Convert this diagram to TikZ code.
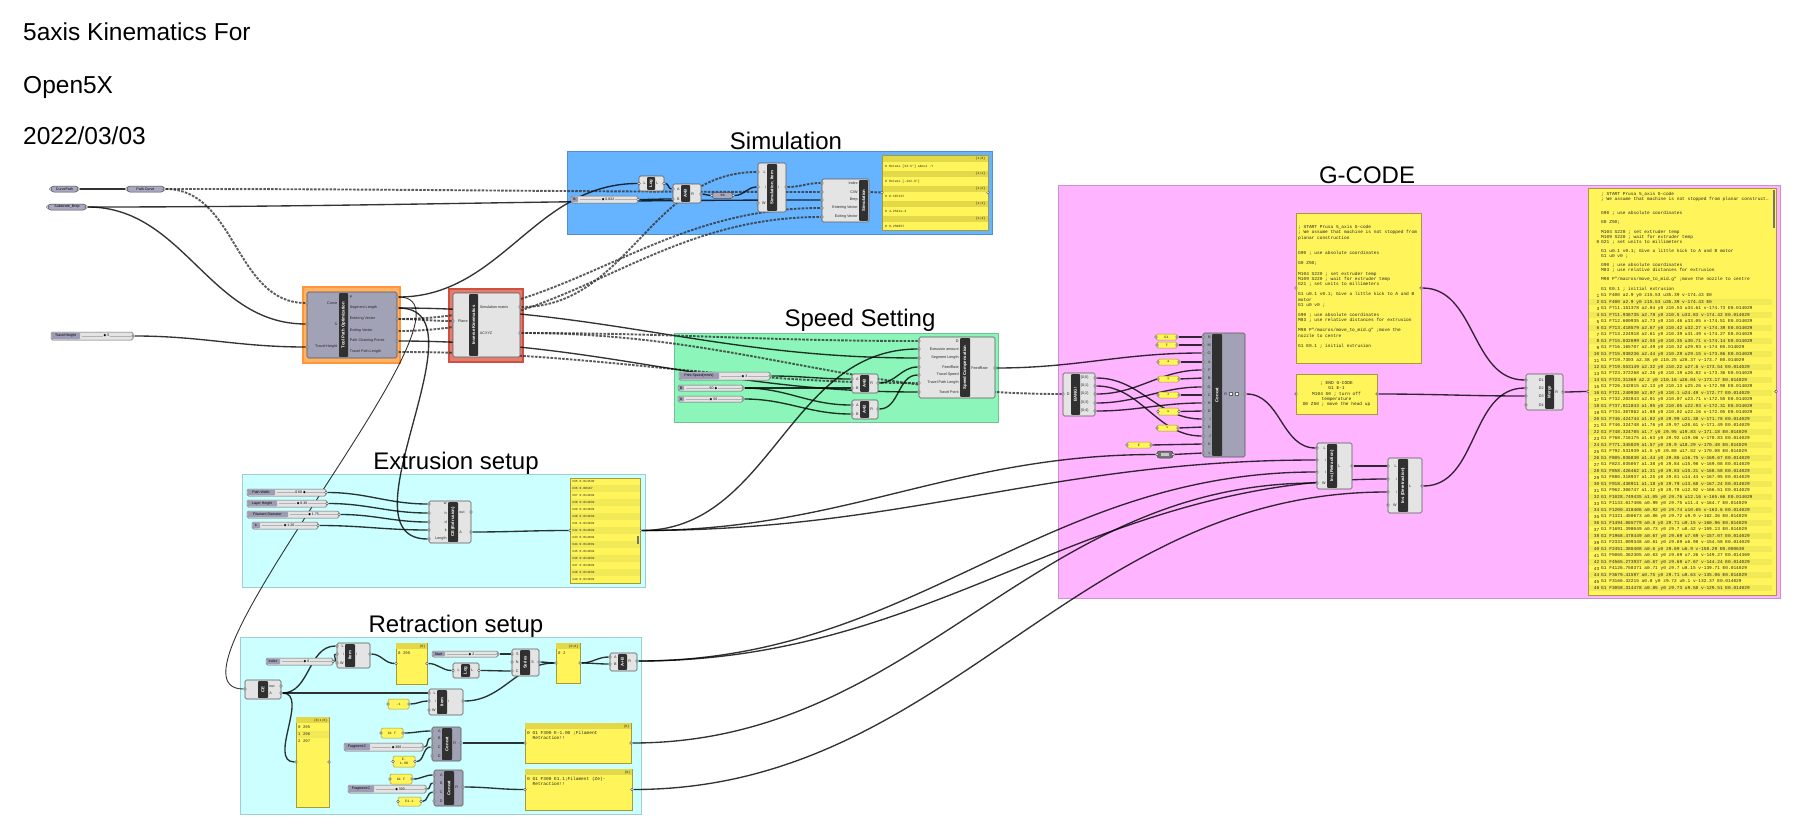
\documentclass[tikz,border=0pt]{standalone}
\usepackage{fontspec}
\setmainfont{Liberation Sans}
\newfontfamily\ghmono{Liberation Mono}
\newfontfamily\ghdj{DejaVu Sans}
\usetikzlibrary{fit}
\definecolor{simc}{RGB}{102,180,255}
\definecolor{gcc}{RGB}{255,180,255}
\definecolor{spc}{RGB}{140,245,185}
\definecolor{cyc}{RGB}{204,255,255}
\definecolor{orgf}{RGB}{255,178,100}
\definecolor{orgd}{RGB}{255,150,60}
\definecolor{redf}{RGB}{226,125,112}
\definecolor{redd}{RGB}{205,80,65}
\definecolor{compfill}{RGB}{228,228,228}
\definecolor{bluec}{RGB}{162,162,182}
\definecolor{stripc}{RGB}{48,48,48}
\definecolor{pillc}{RGB}{168,168,192}
\definecolor{slidc}{RGB}{228,228,228}
\definecolor{sliderlab}{RGB}{156,156,180}
\definecolor{panc}{RGB}{255,245,90}
\definecolor{panb}{RGB}{165,155,60}
\definecolor{panh}{RGB}{226,216,72}
\definecolor{rowc}{RGB}{242,233,86}
\pgfdeclarelayer{bglayer}
\pgfdeclarelayer{grouplayer}
\pgfdeclarelayer{wirelayer}
\pgfsetlayers{bglayer,grouplayer,wirelayer,main}
\newcommand{\dia}{{\ghdj ◆}}
\tikzset{
  grp/.style={fill=#1, draw=#1!80!black, line width=0.5pt, inner sep=0pt},
  grptitle/.style={font=\fontsize{24}{28}\selectfont, anchor=base, inner sep=0pt},
  maintitle/.style={font=\fontsize{24.5}{28}\selectfont, anchor=base west, inner sep=0pt},
  wire/.style={draw=black, draw opacity=0.8, line width=1.35pt},
  dwire/.style={draw=black!80, draw opacity=0.8, line width=1.9pt, dash pattern=on 2.6pt off 1.3pt},
  compbody/.style={draw=black!65, rounded corners=1.5pt, line width=0.6pt, inner sep=0pt},
  striplbl/.style={font=\bfseries\fontsize{4.3}{5}\selectfont, text=white, inner sep=0pt},
  portlbl/.style={font=\fontsize{3.7}{4.4}\selectfont, inner sep=0.2pt, text=black!85},
  port/.style={circle, minimum size=2.6pt, inner sep=0pt, fill=white, draw=black!75, line width=0.4pt},
  pill/.style={rounded corners=2.8pt, minimum height=6pt, inner sep=0pt, fill=pillc, draw=black!70, line width=0.5pt, font=\fontsize{3.6}{4}\selectfont},
  sliderbody/.style={draw=black!60, fill=slidc, rounded corners=1.5pt, line width=0.5pt, inner sep=0pt},
  sllbl/.style={font=\fontsize{3.5}{4}\selectfont, inner sep=0pt},
  slval/.style={font=\fontsize{3.5}{4}\selectfont, inner sep=0.6pt, fill=slidc},
  panelbody/.style={draw=panb, fill=panc, line width=0.6pt, inner sep=0pt},
  minipan/.style={draw=panb, fill=panc, line width=0.5pt, rounded corners=1.5pt, inner sep=0pt},
  mono/.style={font=\ghmono\fontsize{#1}{#1}\selectfont, inner sep=0pt, text=black!85, align=center},
}
\newcommand{\ghcomp}[9]{%
  \node[compbody, fill=#9, fit={(#2,#3) (#4,#5)}] (#1) {};
  \fill[stripc, rounded corners=0.8pt] (#6,#3+1.2) rectangle (#7,#5-1.2);
  \node[striplbl, rotate=90] (#1-s) at ({(#6+#7)/2},{(#3+#5)/2}) {#8};
}
\newcommand{\ghin}[5]{%
  \node[portlbl, anchor=east] (#1-t) at (#4,#3) {#5};
  \node[port] (#1) at (#2,#3) {};
}
\newcommand{\ghout}[5]{%
  \node[portlbl, anchor=west] (#1-t) at (#4,#3) {#5};
  \node[port] (#1) at (#2,#3) {};
}
\newcommand{\ghpill}[5]{%
  \node[pill, minimum width=#4pt] (#1) at (#2,#3) {#5};
  \node[port] (#1-i) at (#1.west) {};
  \node[port] (#1-o) at (#1.east) {};
}
\newcommand{\ghslider}[8]{%
  \node[sliderbody, fit={(#2,#3) (#4,#5)}] (#1) {};
  \fill[sliderlab, rounded corners=1pt] (#2+0.7,#3+0.7) rectangle (#6,#5-0.7);
  \node[sllbl] (#1-l) at ({(#2+#6)/2},{(#3+#5)/2}) {#7};
  \draw[black!30, line width=0.5pt] (#6+2,{(#3+#5)/2}) -- (#4-2,{(#3+#5)/2});
  \node[slval] (#1-v) at ({(#6+#4)/2},{(#3+#5)/2}) {#8};
  \node[port] (#1-o) at (#4,{(#3+#5)/2}) {};
}
\newcommand{\ghpanel}[5]{%
  \node[panelbody, fit={(#2,#3) (#4,#5)}] (#1) {};
  \node[port] (#1-i) at (#2,{(#3+#5)/2}) {};
  \node[port] (#1-o) at (#4,{(#3+#5)/2}) {};
}
\newcommand{\ghmini}[6]{%
  \node[minipan, fit={(#2,#3) (#4,#5)}] (#1) {};
  \node[mono=3.4] (#1-t) at ({(#2+#4)/2},{(#3+#5)/2}) {#6};
  \node[port] (#1-i) at (#2,{(#3+#5)/2}) {};
  \node[port] (#1-o) at (#4,{(#3+#5)/2}) {};
}
\newcommand{\ghhdr}[5]{%
  \fill[panh] (#2+0.4,#3+0.4) rectangle (#4-0.4,#3+6);
  \node[mono=3.2, anchor=east] (#1) at (#4-1.5,#3+3.3) {#5};
}
\begin{document}
\begin{tikzpicture}[x=1pt,y=-1pt]
\begin{pgfonlayer}{bglayer}
\fill[white] (0,0) rectangle (1800,835);
\end{pgfonlayer}
\useasboundingbox (0,0) rectangle (1800,835);

% ---------- titles ----------
\node[maintitle] (title1) at (23,40) {5axis Kinematics For};
\node[maintitle] (title2) at (23,93) {Open5X};
\node[maintitle] (title3) at (23,144) {2022/03/03};

% ---------- groups ----------
\begin{pgfonlayer}{grouplayer}
\node[grp=simc, fit={(567,151) (992,234)}] (gsim) {};
\node[grp=gcc, fit={(1058,185) (1780,598)}] (ggc) {};
\node[grp=spc, fit={(674,333) (998,422)}] (gsp) {};
\node[grp=cyc, fit={(242,474) (645,587)}] (gex) {};
\node[grp=cyc, fit={(240,637) (641,814)}] (grt) {};
\node[fit={(303,287) (400,363)}, inner sep=0pt, fill=orgf, draw=orgd, line width=1.4pt] (gtpo) {};
\node[fit={(449,289) (523,362)}, inner sep=0pt, fill=redf, draw=redd, line width=1.4pt] (gik) {};
\end{pgfonlayer}
\node[grptitle] (tsim) at (786,149) {Simulation};
\node[grptitle] (tgc) at (1367,183) {G-CODE};
\node[grptitle] (tsp) at (860,326) {Speed Setting};
\node[grptitle] (tex) at (456,469) {Extrusion setup};
\node[grptitle] (trt) at (456,632) {Retraction setup};

% ---------- inputs top-left ----------
\ghpill{cpath}{64.5}{189}{27}{CurvePath}
\ghpill{pcurve}{145.5}{189}{37}{Path Curve}
\ghpill{subs}{67}{207}{38}{Substrate\_Brep}
\ghslider{th}{51}{332}{133}{340}{80}{Travel Height}{\dia\ 5}

% ---------- Tool Path Optimization ----------
\ghcomp{tpo}{307}{292}{397}{358}{339}{348}{Tool Path Optimization}{bluec}
\ghin{tpo-cv}{307}{303}{337.5}{Curve}
\ghin{tpo-s}{307}{324}{337.5}{S}
\ghin{tpo-th}{307}{347}{337.5}{Travel Height}
\ghout{tpo-p}{397}{297}{349.5}{P}
\ghout{tpo-sl}{397}{308}{349.5}{Segment Length}
\ghout{tpo-ev}{397}{319}{349.5}{Entering Vector}
\ghout{tpo-xv}{397}{331}{349.5}{Exiting Vector}
\ghout{tpo-pc}{397}{341}{349.5}{Path Chaining Points}
\ghout{tpo-tl}{397}{352}{349.5}{Travel Path Length}

% ---------- Inverse Kinematics ----------
\ghcomp{ik}{453}{293}{520}{357}{469}{478}{Inverse Kinematics}{compfill}
\ghin{ik-pl}{453}{321}{468}{Plane}
\ghout{ik-sm}{520}{307}{479.5}{Simulation matrix}
\ghout{ik-ac}{520}{333}{479.5}{ACXYZ}

% ---------- Simulation ----------
\ghslider{simsl}{571}{196}{638}{203}{578}{B}{\dia\ 0.822}
\ghcomp{log1}{639}{176}{664}{191}{647}{655}{Log}{compfill}
\ghin{log1-i}{639}{183.5}{646}{L}
\ghout{log1-o}{664}{183.5}{656}{L}
\ghcomp{ab1}{673}{184}{701}{203}{681}{690}{A×B}{compfill}
\ghin{ab1-a}{673}{189}{680}{A}
\ghin{ab1-b}{673}{199}{680}{B}
\ghout{ab1-r}{701}{194}{691}{R}
\ghpill{intp}{722.5}{195.5}{21}{Int}
\ghcomp{simit}{758}{163}{786}{212}{767}{777}{Simulation\_Item}{compfill}
\ghin{simit-l}{758}{172}{766}{L}
\ghin{simit-i}{758}{187}{766}{i}
\ghin{simit-w}{758}{203}{766}{W}
\ghout{simit-o}{786}{187}{778}{i}
\ghcomp{sim}{822}{179}{869}{222}{859}{868}{Simulation}{compfill}
\ghin{sim-ix}{822}{183}{858}{Index}
\ghin{sim-cw}{822}{192}{858}{C/W}
\ghin{sim-br}{822}{200}{858}{Brep}
\ghin{sim-ev}{822}{208}{858}{Entering Vector}
\ghin{sim-xv}{822}{217}{858}{Exiting Vector}
\node[port] (sim-o) at (869,192) {};
\ghpanel{simp}{882}{155}{988}{230}
\foreach \k/\v in {0/{Rotate [33.5°] about -Y},1/{Rotate [-132.9°]},2/{0.587237},3/{4.2541e-4},4/{9.250857}}{
  \fill[panh] (882.5,155.6+15*\k) rectangle (987.5,162+15*\k);
  \node[mono=3.2, anchor=east] (simh\k) at (985.5,158.8+15*\k) {\{1;\k\}};
  \node[mono=3.2, anchor=west] (simv\k) at (885,166.5+15*\k) {0 \v};
}

% ---------- Speed Setting ----------
\ghcomp{sc}{919}{337}{995}{398}{960}{970}{Speed Compensation}{compfill}
\ghin{sc-d}{919}{341}{959}{D}
\ghin{sc-ea}{919}{349}{959}{Extrusion amount}
\ghin{sc-sl}{919}{358}{959}{Segment Length}
\ghin{sc-fr}{919}{367}{959}{FeedRate}
\ghin{sc-ts}{919}{375}{959}{Travel Speed}
\ghin{sc-tl}{919}{383}{959}{Travel Path Length}
\ghin{sc-tp}{919}{392}{959}{Travel Point}
\ghout{sc-o}{995}{368}{971}{FeedRate}
\ghslider{ps}{679}{372}{770}{380}{719}{Print Speed(mm/s)}{\dia\ 3}
\ghslider{sbb}{678}{385}{743}{391}{684}{B}{60 \dia}
\ghslider{saa}{678}{396}{743}{402}{684}{A}{\dia\ 50}
\ghcomp{ab2}{852}{374}{878}{393}{860}{869}{A×B}{compfill}
\ghin{ab2-a}{852}{379}{859}{A}
\ghin{ab2-b}{852}{388}{859}{B}
\ghout{ab2-r}{878}{383}{870}{R}
\ghcomp{ab3}{852}{400}{878}{419}{860}{869}{A×B}{compfill}
\ghin{ab3-a}{852}{405}{859}{A}
\ghin{ab3-b}{852}{414}{859}{B}
\ghout{ab3-r}{878}{409}{870}{R}

% ---------- Extrusion setup ----------
\ghslider{pw}{247}{489}{326}{496}{275}{Path Width}{0.60 \dia}
\ghslider{lh}{247}{500}{327}{507}{277}{Layer Height}{\dia\ 0.30}
\ghslider{fd}{247}{511}{339}{518}{288}{Filament Diameter}{\dia\ 1.75}
\ghslider{kk}{252}{522}{318}{529}{260}{k}{\dia\ 1.20}
\ghcomp{ce}{429}{501}{471}{543}{448}{458}{CE (Extrusion)}{compfill}
\ghin{ce-w}{429}{504}{447}{w}
\ghin{ce-h}{429}{513}{447}{h}
\ghin{ce-d}{429}{522}{447}{d}
\ghin{ce-k}{429}{530}{447}{k}
\ghin{ce-len}{429}{539}{447}{Length}
\ghout{ce-out}{471}{512}{459}{out}
\ghout{ce-a}{471}{532}{459}{A}
\ghpanel{extp}{570}{478}{640}{583}
\foreach \k/\v in {0/{335 0.014530},1/{336 0.00187},2/{337 0.014039},3/{338 0.014039},4/{339 0.014039},5/{340 0.014039},6/{341 0.014039},7/{342 0.014039},8/{343 0.014039},9/{344 0.014039},10/{345 0.014039},11/{346 0.014039},12/{347 0.014039},13/{348 0.014039},14/{349 0.014039}}{
  \ifodd\k \fill[rowc] (570.5,478+7*\k) rectangle (639.5,485+7*\k); \fi
  \node[mono=3.1, anchor=west] (ext\k) at (572,481.5+7*\k) {\v};
}
\fill[black!55] (636.5,536) rectangle (638.5,544);

% ---------- Retraction setup ----------
\ghcomp{ce2}{245}{680}{281}{699}{258}{268}{CE}{compfill}
\ghin{ce2-i}{245}{689}{257}{}
\ghout{ce2-out}{281}{686}{269}{out}
\ghout{ce2-a}{281}{693}{269}{A}
\ghslider{idx}{266}{658}{333}{665}{280}{Index}{\dia\ 0}
\ghcomp{it1}{337}{643}{370}{668}{345}{355}{Item}{compfill}
\ghin{it1-l}{337}{646}{344}{L}
\ghin{it1-i}{337}{654}{344}{i}
\ghin{it1-w}{337}{663}{344}{W}
\ghout{it1-o}{370}{654}{356}{i}
\ghpanel{ptf}{396}{643}{427}{684}
\ghhdr{ptf-h}{396}{643}{427}{\{0\}}
\node[mono=4, anchor=west] (ptf-t) at (398,653) {0 295};
\ghslider{st}{432}{651}{498}{657}{445}{Start}{\dia\ 2}
\ghcomp{log2}{453}{663}{479}{678}{461}{470}{Log}{compfill}
\ghin{log2-i}{453}{670.5}{460}{L}
\ghout{log2-o}{479}{670.5}{471}{L}
\ghcomp{ser}{512}{649}{539}{676}{520}{530}{Series}{compfill}
\ghin{ser-s}{512}{654}{519}{S}
\ghin{ser-n}{512}{662}{519}{N}
\ghin{ser-c}{512}{671}{519}{C}
\ghout{ser-o}{539}{662}{531}{S}
\ghpanel{ptw}{556}{643}{580}{683}
\ghhdr{ptw-h}{556}{643}{580}{\{0;0\}}
\node[mono=4, anchor=west] (ptw-t) at (558,653) {0 2};
\ghcomp{ab4}{610}{653}{637}{671}{618}{627}{A+B}{compfill}
\ghin{ab4-a}{610}{657}{617}{A}
\ghin{ab4-b}{610}{664}{617}{B}
\ghout{ab4-r}{637}{661}{628}{R}
\ghcomp{it2}{429}{689}{463}{715}{437}{447}{Item}{compfill}
\ghin{it2-l}{429}{693}{436}{L}
\ghin{it2-i}{429}{701}{436}{i}
\ghin{it2-w}{429}{710}{436}{W}
\ghout{it2-o}{463}{701}{448}{i}
\ghmini{mone}{388}{699}{409}{709}{-1}
\ghpanel{plist}{296}{717}{329}{807}
\ghhdr{plist-h}{296}{717}{329}{\{0;1;0\}}
\foreach \k/\v in {0/{0 295},1/{1 296},2/{2 297}}{
  \ifodd\k \fill[rowc] (296.5,723.5+7*\k) rectangle (328.5,730.5+7*\k); \fi
  \node[mono=4, anchor=west] (pl\k) at (298,727+7*\k) {\v};
}
\ghcomp{ccx}{432}{727}{461}{761}{442}{452}{Concat}{bluec}
\ghin{ccx-a}{432}{731}{441}{A}
\ghin{ccx-b}{432}{738}{441}{B}
\ghin{ccx-c}{432}{747}{441}{C}
\ghin{ccx-d}{432}{756}{441}{D}
\ghout{ccx-r}{461}{743}{453}{R}
\ghmini{gfa}{381}{728}{403}{738}{G1 F}
\ghslider{fca}{344}{743}{423}{751}{370}{Fragment C}{\dia\ 300}
\ghmini{ema}{393}{756}{415}{767}{E-\\1.00}
\ghpanel{opa}{525}{723}{631}{763}
\ghhdr{opa-h}{525}{723}{631}{\{0\}}
\node[mono=4.5, anchor=north west, align=left, font=\ghmono\fontsize{4.5}{5.2}\selectfont] (opa-t) at (527,731) {0 G1 F300 E-1.00 ;Filament\\\ \ Retraction!!};
\ghcomp{ccy}{434}{770}{463}{806}{444}{454}{Concat}{bluec}
\ghin{ccy-a}{434}{775}{443}{A}
\ghin{ccy-b}{434}{783}{443}{B}
\ghin{ccy-c}{434}{792}{443}{C}
\ghin{ccy-d}{434}{801}{443}{D}
\ghout{ccy-r}{463}{787}{455}{R}
\ghmini{gfb}{390}{774}{412}{784}{G1 F}
\ghslider{fcb}{348}{785}{426}{793}{374}{Fragment C}{\dia\ 300}
\ghmini{emb}{398}{797}{421}{806}{E1.1}
\ghpanel{opb}{525}{769}{632}{810}
\ghhdr{opb-h}{525}{769}{632}{\{0\}}
\node[mono=4.5, anchor=north west, align=left, font=\ghmono\fontsize{4.5}{5.2}\selectfont] (opb-t) at (527,777) {0 G1 F300 E1.1;Filament (Ze)-\\\ \ Retraction!!};

% ---------- G-CODE ----------
\ghcomp{bang}{1063}{373}{1095}{416}{1071}{1080}{BANG!}{compfill}
\ghin{bang-d}{1063}{394}{1070}{D}
\ghout{bang-o0}{1095}{378}{1080.5}{\{0;0\}}
\ghout{bang-o1}{1095}{386}{1080.5}{\{0;1\}}
\ghout{bang-o2}{1095}{394}{1080.5}{\{0;2\}}
\ghout{bang-o3}{1095}{403}{1080.5}{\{0;3\}}
\ghout{bang-o4}{1095}{411}{1080.5}{\{0;4\}}
\ghcomp{cc}{1203}{333}{1245}{457}{1212}{1222}{Concat}{bluec}
\foreach \n/\yy in {N/337,M/345,O/353,A/362,F/370,B/378,G/387,C/395,H/403,D/411,I/419,E/427,J/436,K/444,L/453}{
  \ghin{cc-\n}{1203}{\yy}{1211}{\n}
}
\ghout{cc-r}{1245}{394}{1224}{R}
\node[draw=black!60, fill=white, minimum size=3.2pt, inner sep=0pt] (ccic1) at (1231,394) {};
\node[draw=black!60, fill=white, minimum size=3.2pt, inner sep=0pt] (ccic2) at (1237,394) {};
\ghmini{gop}{1156}{334}{1177}{340}{G1}
\ghmini{fop}{1157}{342}{1177}{348}{F}
\ghmini{aop}{1158}{359}{1179}{365}{a}
\ghmini{yop}{1158}{376}{1179}{382}{y}
\ghmini{zop}{1158}{392}{1179}{398}{z}
\ghmini{uop}{1158}{408}{1179}{415}{u}
\ghmini{vop}{1157}{425}{1178}{431}{v}
\ghmini{eop}{1127}{442}{1151}{448}{E}
\node[fit={(1157,451) (1173,458)}, inner sep=0pt, rounded corners=2.5pt, fill=black!55, draw=black!75, line width=0.5pt] (relay) {};
\fill[black!22] (1161,452.6) rectangle (1169,456.4);
\node[port] (relay-i) at (1157,454.5) {};
\node[port] (relay-o) at (1173,454.5) {};

\ghpanel{startp}{1296}{213}{1421}{363}
\node[anchor=north west, inner sep=0pt, align=left, text=black!85, font=\ghmono\fontsize{4.5}{5.16}\selectfont] (startp-t) at (1298,225.3) {; START Prusa 5\_axis G-code\\
; We assume that machine is not stopped from\\
planar construction\\ \mbox{}\\ \mbox{}\\
G90 ; use absolute coordinates\\ \mbox{}\\
G0 Z50;\\ \mbox{}\\
M104 S220 ; set extruder temp\\
M109 S220 ; wait for extruder temp\\
G21 ; set units to millimeters\\ \mbox{}\\
G1 u0.1 v0.1; Give a little kick to A and B\\
motor\\
G1 u0 v0 ;\\ \mbox{}\\
G90 ; use absolute coordinates\\
M83 ; use relative distances for extrusion\\ \mbox{}\\
M98 P"/macros/move\_to\_mid.g" ;move the\\
nozzle to centre\\ \mbox{}\\
G1 E0.1 ; initial extrusion};
\ghpanel{endp}{1296}{374}{1377}{414}
\node[inner sep=0pt, align=center, text=black!85, font=\ghmono\fontsize{4.5}{5.16}\selectfont] (endp-t) at (1336.5,394) {; END G-CODE\\ G1 E-1\\ M104 S0 ; turn off\\ temperature\\ G0 Z50 ; move the head up};

\ghcomp{insr}{1317}{443}{1352}{489}{1327}{1337}{Ins (Retraction)}{compfill}
\ghin{insr-l}{1317}{448}{1326}{L}
\ghin{insr-ia}{1317}{460}{1326}{i}
\ghin{insr-ib}{1317}{472}{1326}{i}
\ghin{insr-w}{1317}{483}{1326}{W}
\ghout{insr-o}{1352}{466}{1338}{L}
\ghcomp{insd}{1388}{458}{1422}{513}{1398}{1408}{Ins (Deretraction)}{compfill}
\ghin{insd-l}{1388}{466}{1397}{L}
\ghin{insd-ia}{1388}{479}{1397}{i}
\ghin{insd-ib}{1388}{492}{1397}{i}
\ghin{insd-w}{1388}{505}{1397}{W}
\ghout{insd-o}{1422}{486}{1409}{L}
\ghcomp{mrg}{1526}{374}{1563}{410}{1545}{1554}{Merge}{compfill}
\ghin{mrg-a}{1526}{380}{1544}{D1}
\ghin{mrg-b}{1526}{388}{1544}{D2}
\ghin{mrg-c}{1526}{396}{1544}{D3}
\ghin{mrg-d}{1526}{405}{1544}{D4}
\ghout{mrg-o}{1563}{392}{1555}{R}

% big output panel
\ghpanel{bigp}{1588}{188}{1776}{595}
\fill[black!55] (1772.5,190) rectangle (1775,228);
\foreach \k in {2,4,...,46}{
  \fill[rowc] (1588.5,{295.7+(\k-1)*6.5-3.25}) rectangle (1771.5,{295.7+(\k-1)*6.5+3.25});
}
\node[mono=4.5, anchor=west] (bh0) at (1601,194.3) {; START Prusa 5\_axis G-code};
\node[mono=4.5, anchor=west] (bh1) at (1601,199.05) {; We assume that machine is not stopped from planar construct…};
\node[mono=4.5, anchor=west] (bh4) at (1601,213.3) {G90 ; use absolute coordinates};
\node[mono=4.5, anchor=west] (bh6) at (1601,222.8) {G0 Z50;};
\node[mono=4.5, anchor=west] (bh8) at (1601,232.3) {M104 S220 ; set extruder temp};
\node[mono=4.5, anchor=west] (bh9) at (1601,237.05) {M109 S220 ; wait for extruder temp};
\node[mono=4.5, anchor=west] (bh10) at (1601,241.8) {G21 ; set units to millimeters};
\node[mono=4.5, anchor=east] (bh10i) at (1599.5,241.8) {0};
\node[mono=4.5, anchor=west] (bh12) at (1601,251.3) {G1 u0.1 v0.1; Give a little kick to A and B motor};
\node[mono=4.5, anchor=west] (bh13) at (1601,256.05) {G1 u0 v0 ;};
\node[mono=4.5, anchor=west] (bh15) at (1601,265.55) {G90 ; use absolute coordinates};
\node[mono=4.5, anchor=west] (bh16) at (1601,270.3) {M83 ; use relative distances for extrusion};
\node[mono=4.5, anchor=west] (bh18) at (1601,279.8) {M98 P"/macros/move\_to\_mid.g" ;move the nozzle to centre};
\node[mono=4.5, anchor=west] (bh20) at (1601,289.3) {G1 E0.1 ; initial extrusion};
\foreach \k/\t in {
1/{G1 F400 a2.9 y0 z15.53 u35.39 v-174.43 E0},
2/{G1 F400 a2.9 y0 z15.53 u35.39 v-174.43 E0},
3/{G1 F711.151378 a2.84 y0 z10.53 u34.61 v-174.73 E0.014029},
4/{G1 F711.936735 a2.78 y0 z10.5 u33.83 v-174.42 E0.014029},
5/{G1 F712.600935 a2.73 y0 z10.46 u33.05 v-174.51 E0.014029},
6/{G1 F713.418579 a2.67 y0 z10.42 u32.27 v-174.39 E0.014029},
7/{G1 F713.224918 a2.61 y0 z10.39 u31.49 v-174.27 E0.014029},
8/{G1 F715.032699 a2.55 y0 z10.35 u30.71 v-174.14 E0.014029},
9/{G1 F716.165707 a2.49 y0 z10.32 u29.93 v-174 E0.014029},
10/{G1 F715.938236 a2.44 y0 z10.29 u29.15 v-173.86 E0.014029},
11/{G1 F719.7303 a2.38 y0 z10.25 u28.37 v-173.7 E0.014029},
12/{G1 F719.553149 a2.32 y0 z10.22 u27.6 v-173.54 E0.014029},
13/{G1 F723.372268 a2.26 y0 z10.19 u26.82 v-173.36 E0.014029},
14/{G1 F723.31369 a2.2 y0 z10.16 u26.04 v-173.17 E0.014029},
15/{G1 F726.342815 a2.13 y0 z10.13 u25.26 v-172.98 E0.014029},
16/{G1 F721.240930 a2.07 y0 z10.1 u24.49 v-172.77 E0.014029},
17/{G1 F732.202843 a2.01 y0 z10.07 u23.71 v-172.55 E0.014029},
18/{G1 F737.011843 a1.95 y0 z10.05 u22.93 v-172.31 E0.014029},
19/{G1 F734.307862 a1.88 y0 z10.02 u22.16 v-172.05 E0.014029},
20/{G1 F746.424744 a1.82 y0 z9.99 u21.38 v-171.78 E0.014029},
21/{G1 F746.324748 a1.76 y0 z9.97 u20.61 v-171.49 E0.014029},
22/{G1 F748.324705 a1.7 y0 z9.95 u19.83 v-171.18 E0.014029},
23/{G1 F768.716175 a1.63 y0 z9.92 u19.06 v-170.83 E0.014029},
24/{G1 F771.345029 a1.57 y0 z9.9 u18.29 v-170.48 E0.014029},
25/{G1 F792.531939 a1.5 y0 z9.88 u17.52 v-170.08 E0.014029},
26/{G1 F805.036830 a1.44 y0 z9.86 u16.75 v-169.67 E0.014029},
27/{G1 F823.035057 a1.38 y0 z9.84 u15.98 v-169.08 E0.014029},
28/{G1 F858.426462 a1.31 y0 z9.83 u15.21 v-168.58 E0.014029},
29/{G1 F880.318937 a1.25 y0 z9.81 u14.44 v-167.95 E0.014029},
30/{G1 F918.438911 a1.18 y0 z9.79 u13.68 v-167.24 E0.014029},
31/{G1 F962.306747 a1.12 y0 z9.78 u12.92 v-166.51 E0.014029},
32/{G1 F1028.749435 a1.05 y0 z9.76 u12.16 v-165.66 E0.014029},
33/{G1 F1133.017406 a0.99 y0 z9.75 u11.4 v-164.7 E0.014029},
34/{G1 F1200.418406 a0.92 y0 z9.74 u10.65 v-163.6 E0.014029},
35/{G1 F1321.450673 a0.86 y0 z9.72 u9.9 v-162.36 E0.014029},
36/{G1 F1494.065779 a0.8 y0 z9.71 u9.15 v-160.96 E0.014029},
37/{G1 F1691.398049 a0.73 y0 z9.7 u8.42 v-159.13 E0.014029},
38/{G1 F1968.478449 a0.67 y0 z9.69 u7.69 v-157.07 E0.014029},
39/{G1 F2331.009348 a0.61 y0 z9.69 u6.98 v-154.58 E0.014029},
40/{G1 F2451.380408 a0.6 y0 z9.69 u6.9 v-158.29 E0.000630},
41/{G1 F5065.362305 a0.63 y0 z9.69 u7.26 v-149.27 E0.014369},
42/{G1 F4565.273937 a0.67 y0 z9.69 u7.67 v-144.24 E0.014029},
43/{G1 F4126.758371 a0.71 y0 z9.7 u8.15 v-139.71 E0.014029},
44/{G1 F3679.41597 a0.75 y0 z9.71 u8.63 v-135.06 E0.014029},
45/{G1 F3166.32215 a0.8 y0 z9.72 u9.1 v-132.37 E0.014029},
46/{G1 F3058.314478 a0.85 y0 z9.73 u9.58 v-129.51 E0.014029}}{
  \node[mono=4.5, anchor=east] (bi\k) at (1599.5,{295.7+(\k-1)*6.5}) {\k};
  \node[mono=4.5, anchor=west] (bt\k) at (1601,{295.7+(\k-1)*6.5}) {\t};
}

% ---------- wires ----------
\begin{pgfonlayer}{wirelayer}
\draw[wire] (cpath-o) -- (pcurve-i);
\draw[dwire] (pcurve-o) to[out=0,in=180] (sim-cw);
\draw[dwire] (pcurve-o) to[out=0,in=180] (tpo-cv);
\draw[wire] (subs-o) to[out=0,in=180] (sim-br);
\draw[wire] (subs-o) to[out=0,in=180] (tpo-s);
\draw[wire] (th-o) to[out=0,in=180] (tpo-th);
\draw[wire] (tpo-p) to[out=0,in=180] (log1-i);
\draw[dwire] (tpo-ev) to[out=0,in=180] (ik-pl);
\draw[dwire] (tpo-ev) to[out=0,in=180] (sim-ev);
\draw[dwire] (tpo-xv) to[out=0,in=180] (sim-xv);
\draw[dwire] (ik-sm) to[out=0,in=180] (simit-l);
\draw[wire] (tpo-sl) to[out=0,in=180] (sc-sl);
\draw[dwire] (tpo-tl) to[out=0,in=180] (sc-tl);
\draw[wire] (tpo-pc) to[out=0,in=180] (sc-tp);
\draw[dwire] (ik-ac) to[out=0,in=180] (sc-d);
\draw[dwire] (ik-ac) to[out=0,in=180] (bang-d);
\draw[wire] (tpo-sl) to[out=0,in=180] (ce-len);
\draw[wire, line width=0.9pt] (tpo-p) to[out=0,in=180,looseness=0.6] (ce2-i);
% simulation
\draw[wire] (log1-o) to[out=0,in=180] (ab1-a);
\draw[wire] (simsl-o) to[out=0,in=180] (ab1-b);
\draw[wire] (ab1-r) to[out=0,in=180] (intp-i);
\draw[wire] (intp-o) to[out=0,in=180] (simit-i);
\draw[dwire] (simit-o) to[out=0,in=180] (sim-ix);
\draw[dwire] (sim-o) -- (simp-i);
% speed
\draw[wire] (ps-o) to[out=0,in=180] (ab2-a);
\draw[wire] (sbb-o) to[out=0,in=180] (ab2-b);
\draw[wire] (sbb-o) to[out=0,in=180] (ab3-a);
\draw[wire] (saa-o) to[out=0,in=180] (ab3-b);
\draw[wire] (ab2-r) to[out=0,in=180] (sc-fr);
\draw[wire] (ab3-r) to[out=0,in=180] (sc-ts);
\draw[wire] (extp-o) to[out=0,in=180] (sc-ea);
% extrusion
\draw[wire] (pw-o) to[out=0,in=180] (ce-w);
\draw[wire] (lh-o) to[out=0,in=180] (ce-h);
\draw[wire] (fd-o) to[out=0,in=180] (ce-d);
\draw[wire] (kk-o) to[out=0,in=180] (ce-k);
\draw[wire] (ce-a) to[out=0,in=180] (extp-i);
% retraction
\draw[wire] (ce2-a) to[out=0,in=180] (it1-l);
\draw[wire] (ce2-a) to[out=0,in=180] (it2-l);
\draw[wire] (ce2-a) to[out=0,in=180] (plist-i);
\draw[wire] (idx-o) to[out=0,in=180] (it1-i);
\draw[wire] (it1-o) to[out=0,in=180] (ptf-i);
\draw[wire] (ptf-o) to[out=0,in=180] (log2-i);
\draw[wire] (st-o) to[out=0,in=180] (ser-s);
\draw[wire] (log2-o) to[out=0,in=180] (ser-c);
\draw[wire] (ser-o) to[out=0,in=180] (ptw-i);
\draw[wire] (it2-o) to[out=0,in=180] (ptw-i);
\draw[wire] (ptw-o) to[out=0,in=180] (ab4-a);
\draw[wire] (ptw-o) to[out=0,in=180] (ab4-b);
\draw[wire] (mone-o) to[out=0,in=180] (it2-i);
\draw[wire] (gfa-o) to[out=0,in=180] (ccx-a);
\draw[wire] (fca-o) to[out=0,in=180] (ccx-b);
\draw[wire] (ema-o) to[out=0,in=180] (ccx-c);
\draw[wire] (ccx-r) to[out=0,in=180] (opa-i);
\draw[wire] (gfb-o) to[out=0,in=180] (ccy-a);
\draw[wire] (fcb-o) to[out=0,in=180] (ccy-b);
\draw[wire] (emb-o) to[out=0,in=180] (ccy-c);
\draw[wire] (ccy-r) to[out=0,in=180] (opb-i);
% g-code
\draw[wire] (gop-o) -- (cc-N);
\draw[wire] (fop-o) -- (cc-M);
\draw[wire] (sc-o) to[out=0,in=180] (cc-O);
\draw[wire] (aop-o) -- (cc-A);
\draw[wire] (yop-o) -- (cc-B);
\draw[wire] (zop-o) -- (cc-C);
\draw[wire] (uop-o) -- (cc-D);
\draw[wire] (vop-o) -- (cc-E);
\draw[wire] (eop-o) -- (cc-K);
\draw[wire] (bang-o0) to[out=0,in=180] (cc-I);
\draw[wire] (bang-o1) to[out=0,in=180] (cc-J);
\draw[wire] (bang-o2) to[out=0,in=180] (cc-F);
\draw[wire] (bang-o3) to[out=0,in=180] (cc-G);
\draw[wire] (bang-o4) to[out=0,in=180] (cc-H);
\draw[wire] (extp-o) to[out=0,in=180] (relay-i);
\draw[wire] (relay-o) -- (cc-L);
\draw[wire] (cc-r) to[out=0,in=180] (insr-l);
\draw[wire] (insr-o) to[out=0,in=180] (insd-l);
\draw[wire] (extp-o) to[out=0,in=180] (insr-ia);
\draw[wire] (ab4-r) to[out=0,in=180] (insr-ib);
\draw[wire] (opa-o) to[out=0,in=180] (insr-w);
\draw[wire] (ab4-r) to[out=0,in=180] (insd-ia);
\draw[wire] (opb-o) to[out=0,in=180] (insd-ib);
\draw[wire] (startp-o) to[out=0,in=180] (mrg-a);
\draw[wire] (insd-o) to[out=0,in=180] (mrg-b);
\draw[wire] (endp-o) to[out=0,in=180] (mrg-c);
\draw[wire] (mrg-o) to[out=0,in=180] (bigp-i);
\end{pgfonlayer}
\end{tikzpicture}
\end{document}
